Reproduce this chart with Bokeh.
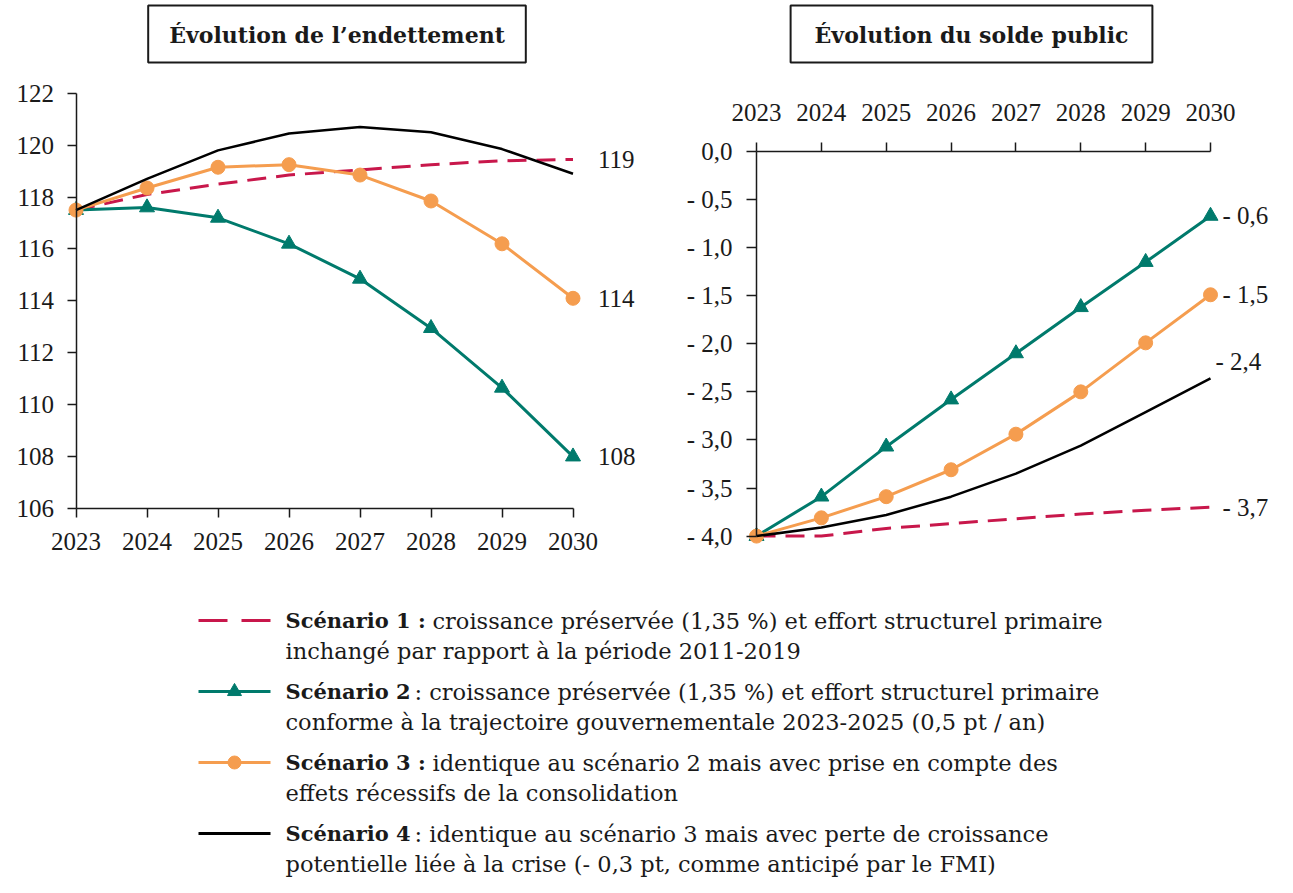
from bokeh.plotting import figure
from bokeh.layouts import column, row
from bokeh.models import Range1d, LinearAxis, FixedTicker, Label, ColumnDataSource
from bokeh.embed import file_html
from bokeh.resources import INLINE
from bokeh.core.properties import value

# ---------------- data ----------------
years = [2023, 2024, 2025, 2026, 2027, 2028, 2029, 2030]

# Évolution de l'endettement (% du PIB)
debt_s1 = [117.5, 118.1, 118.5, 118.85, 119.05, 119.25, 119.4, 119.45]
debt_s2 = [117.5, 117.6, 117.2, 116.2, 114.85, 112.95, 110.65, 108.0]
debt_s3 = [117.5, 118.35, 119.15, 119.25, 118.85, 117.85, 116.2, 114.1]
debt_s4 = [117.5, 118.7, 119.8, 120.45, 120.7, 120.5, 119.85, 118.9]

# Évolution du solde public (% du PIB)
bal_s1 = [-4.0, -4.0, -3.92, -3.87, -3.82, -3.77, -3.73, -3.70]
bal_s2 = [-4.0, -3.59, -3.07, -2.58, -2.10, -1.62, -1.15, -0.67]
bal_s3 = [-4.0, -3.81, -3.59, -3.31, -2.94, -2.50, -1.99, -1.49]
bal_s4 = [-4.0, -3.91, -3.78, -3.59, -3.35, -3.06, -2.71, -2.36]

debt_ticks = [106, 108, 110, 112, 114, 116, 118, 120, 122]
bal_ticks = [0.0, -0.5, -1.0, -1.5, -2.0, -2.5, -3.0, -3.5, -4.0]
bal_tick_labels = ["0,0", "- 0,5", "- 1,0", "- 1,5", "- 2,0", "- 2,5", "- 3,0", "- 3,5", "- 4,0"]

debt_end_text = ["119", "108", "114"]
bal_end_text = ["- 3,7", "- 0,6", "- 1,5", "- 2,4"]

title_left = "Évolution de l’endettement"
title_right = "Évolution du solde public"

legend_bold = ["Scénario 1 :", "Scénario 2", "Scénario 3 :", "Scénario 4"]
legend_rest = [
    "croissance préservée (1,35 %) et effort structurel primaire",
    ": croissance préservée (1,35 %) et effort structurel primaire",
    "identique au scénario 2 mais avec prise en compte des",
    ": identique au scénario 3 mais avec perte de croissance",
]
legend_line2 = [
    "inchangé par rapport à la période 2011-2019",
    "conforme à la trajectoire gouvernementale 2023-2025 (0,5 pt / an)",
    "effets récessifs de la consolidation",
    "potentielle liée à la crise (- 0,3 pt, comme anticipé par le FMI)",
]

# ---------------- style ----------------
RED = "#C8174B"
TEAL = "#007A6C"
ORANGE = "#F59D4F"
BLACK = "#000000"
INK = "#1a1a1a"
NUM_FONT = "Liberation Serif"
TXT_FONT = "DejaVu Serif"
DASH = "19 10"


def style_axis(ax):
    ax.axis_line_color = INK
    ax.axis_line_width = 1.5
    ax.major_tick_line_color = INK
    ax.major_tick_line_width = 1.5
    ax.major_tick_in = 0
    ax.major_tick_out = 9
    ax.minor_tick_in = 0
    ax.minor_tick_out = 0
    ax.major_label_text_font = NUM_FONT
    ax.major_label_text_font_size = "25px"
    ax.major_label_text_color = INK


def base_fig(w, h, xr, yr):
    f = figure(width=w, height=h, x_range=xr, y_range=yr,
               output_backend="svg", toolbar_location=None,
               x_axis_location=None, y_axis_location=None, min_border=0)
    f.outline_line_color = None
    f.grid.grid_line_color = None
    f.background_fill_color = "white"
    f.border_fill_color = "white"
    return f


TOP_H = 570

# ---------------- left chart ----------------
p1 = base_fig(650, TOP_H, Range1d(2021.9366, 2031.0915), Range1d(103.6108, 125.576))

xa1 = LinearAxis(fixed_location=106, bounds=(2023, 2030), ticker=FixedTicker(ticks=years))
style_axis(xa1)
xa1.major_label_standoff = 16
p1.add_layout(xa1, "below")

ya1 = LinearAxis(fixed_location=2023, bounds=(106, 122), ticker=FixedTicker(ticks=debt_ticks))
style_axis(ya1)
ya1.major_label_standoff = 13
p1.add_layout(ya1, "left")

p1.line(years, debt_s1, line_color=RED, line_width=3, line_dash=DASH)
p1.line(years, debt_s2, line_color=TEAL, line_width=3)
p1.scatter(years, debt_s2, marker="triangle", size=15, color=TEAL)
p1.line(years, debt_s3, line_color=ORANGE, line_width=3)
p1.scatter(years, debt_s3, marker="circle", size=14, color=ORANGE)
p1.line(years, debt_s4, line_color=BLACK, line_width=2.5)

src1 = ColumnDataSource(dict(x=[years[-1]] * 3,
                             y=[debt_s1[-1], debt_s2[-1], debt_s3[-1]],
                             t=debt_end_text))
p1.text(x="x", y="y", text="t", source=src1, x_offset=25, text_baseline="middle",
        text_align="left", text_font=value(NUM_FONT), text_font_size="25px", text_color=INK)

p1.add_layout(Label(x=336.5, y=TOP_H - 33.5, x_units="screen", y_units="screen", text=title_left,
                    text_align="center", text_baseline="middle", text_font=TXT_FONT,
                    text_font_style="bold", text_font_size="22px", text_color=INK,
                    border_line_color=INK, border_line_width=2, background_fill_color="white",
                    padding=dict(left=21, right=21, top=16, bottom=15)))

# ---------------- right chart ----------------
p2 = base_fig(627, TOP_H, Range1d(2021.3656, 2031.0330), Range1d(-4.3578, 1.5705))

xa2 = LinearAxis(fixed_location=0, bounds=(2023, 2030), ticker=FixedTicker(ticks=years))
style_axis(xa2)
xa2.major_label_standoff = 22
p2.add_layout(xa2, "above")

ya2 = LinearAxis(fixed_location=2023, bounds=(-4, 0), ticker=FixedTicker(ticks=bal_ticks),
                 major_label_overrides=dict(zip(bal_ticks, bal_tick_labels)))
style_axis(ya2)
ya2.major_tick_out = 10
ya2.major_label_standoff = 14
p2.add_layout(ya2, "left")

p2.line(years, bal_s1, line_color=RED, line_width=3, line_dash=DASH)
p2.line(years, bal_s2, line_color=TEAL, line_width=3)
p2.scatter(years, bal_s2, marker="triangle", size=15, color=TEAL)
p2.line(years, bal_s3, line_color=ORANGE, line_width=3)
p2.scatter(years, bal_s3, marker="circle", size=14, color=ORANGE)
p2.line(years, bal_s4, line_color=BLACK, line_width=2.5)

src2 = ColumnDataSource(dict(x=[years[-1]] * 4,
                             y=[bal_s1[-1], bal_s2[-1], bal_s3[-1], bal_s4[-1]],
                             t=bal_end_text,
                             dx=[12, 12, 12, 5],
                             dy=[0, 0, 0, -17]))
p2.text(x="x", y="y", text="t", source=src2, x_offset="dx", y_offset="dy",
        text_baseline="middle", text_align="left", text_font=value(NUM_FONT),
        text_font_size="25px", text_color=INK)

p2.add_layout(Label(x=971 - 650, y=TOP_H - 33.5, x_units="screen", y_units="screen", text=title_right,
                    text_align="center", text_baseline="middle", text_font=TXT_FONT,
                    text_font_style="bold", text_font_size="22px", text_color=INK,
                    border_line_color=INK, border_line_width=2, background_fill_color="white",
                    padding=dict(left=24, right=24, top=16, bottom=15)))

# ---------------- legend ----------------
LEG_H = 307
p3 = base_fig(1277, LEG_H, Range1d(0, 1277), Range1d(LEG_H, 0))

row_y = [620 - TOP_H, 691 - TOP_H, 762 - TOP_H, 833 - TOP_H]
row2_y = [y + 30 for y in row_y]
samp_x = [198, 270]
mark_x = 234

p3.line(samp_x, [row_y[0]] * 2, line_color=RED, line_width=3, line_dash="29 14")
p3.line(samp_x, [row_y[1]] * 2, line_color=TEAL, line_width=3)
p3.scatter([mark_x], [row_y[1]], marker="triangle", size=14, color=TEAL)
p3.line(samp_x, [row_y[2]] * 2, line_color=ORANGE, line_width=3)
p3.scatter([mark_x], [row_y[2]], marker="circle", size=13, color=ORANGE)
p3.line(samp_x, [row_y[3]] * 2, line_color=BLACK, line_width=3)

bold_x = 285
rest_x = [432, 414, 432, 414]
p3.text(x=[bold_x] * 4, y=row_y, text=legend_bold, text_baseline="middle",
        text_font=value(TXT_FONT), text_font_style="bold", text_font_size="21px", text_color=INK)
p3.text(x=rest_x, y=row_y, text=legend_rest, text_baseline="middle",
        text_font=value(TXT_FONT), text_font_size="22.5px", text_color=INK)
p3.text(x=[bold_x] * 4, y=row2_y, text=legend_line2, text_baseline="middle",
        text_font=value(TXT_FONT), text_font_size="22.5px", text_color=INK)

layout = column(row(p1, p2), p3)
open("out.html", "w").write(file_html(layout, INLINE, "Endettement et solde public"))
